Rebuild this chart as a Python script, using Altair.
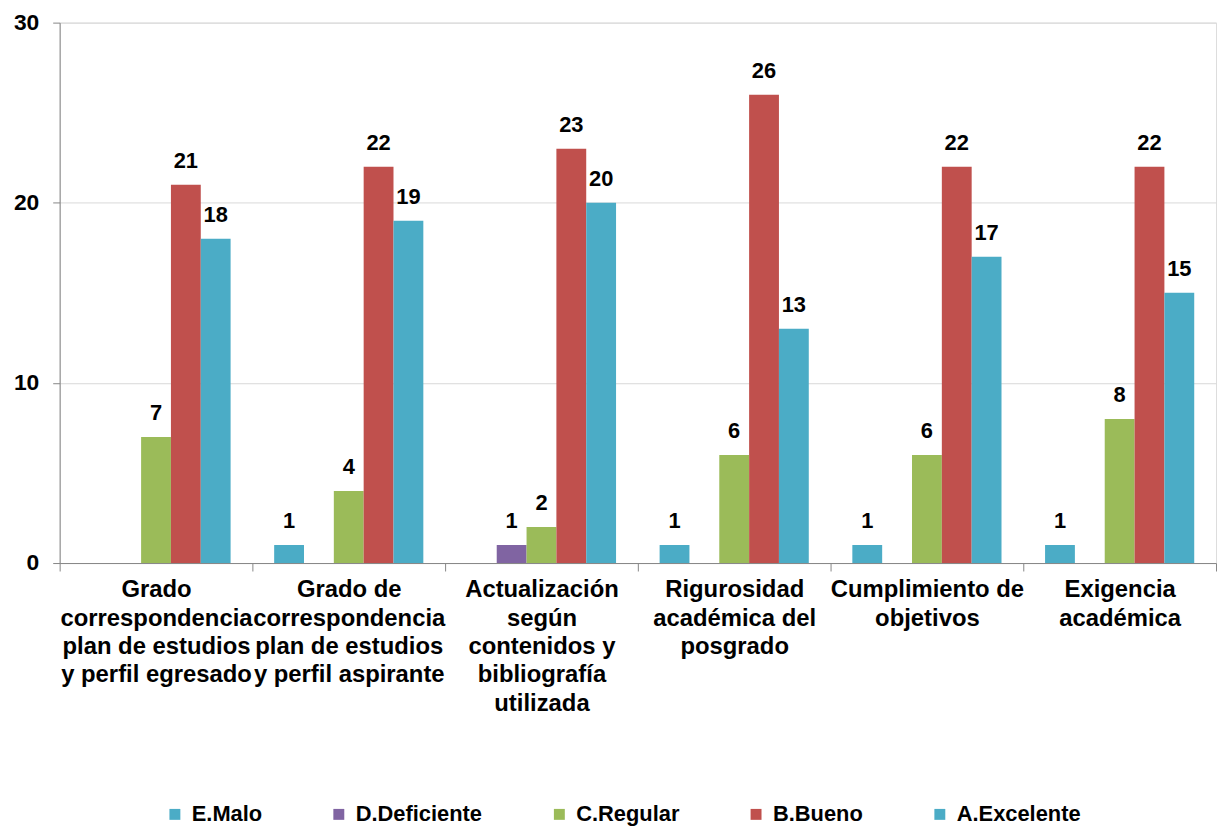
import altair as alt
import pandas as pd

categories = [
    "Grado\ncorrespondencia\nplan de estudios\ny perfil egresado",
    "Grado de\ncorrespondencia\nplan de estudios\ny perfil aspirante",
    "Actualización\nsegún\ncontenidos y\nbibliografía\nutilizada",
    "Rigurosidad\nacadémica del\nposgrado",
    "Cumplimiento de\nobjetivos",
    "Exigencia\nacadémica",
]
series = ["E.Malo", "D.Deficiente", "C.Regular", "B.Bueno", "A.Excelente"]
colors = ["#4BACC6", "#8064A2", "#9BBB59", "#C0504D", "#4BACC6"]

malo = [0, 1, 0, 1, 1, 1]
deficiente = [0, 0, 1, 0, 0, 0]
regular = [7, 4, 2, 6, 6, 8]
bueno = [21, 22, 23, 26, 22, 22]
excelente = [18, 19, 20, 13, 17, 15]

rows = []
for s, vals in zip(series, [malo, deficiente, regular, bueno, excelente]):
    for c, v in zip(categories, vals):
        rows.append({"category": c, "series": s, "value": v})
df = pd.DataFrame(rows)

FONT = "Liberation Sans"

x_enc = alt.X(
    "category:N",
    sort=categories,
    scale=alt.Scale(domain=categories, paddingInner=0, paddingOuter=0),
    axis=alt.Axis(
        title=None,
        labelAngle=0,
        labelExpr="split(datum.label, '\\n')",
        labelFont=FONT,
        labelFontSize=24,
        labelFontWeight="bold",
        labelColor="black",
        labelLineHeight=28.5,
        labelPadding=7,
        labelOverlap=False,
        labelBound=False,
        labelLimit=0,
        tickBand="extent",
        tickSize=8,
        tickColor="#868686",
        domainColor="#868686",
        grid=False,
    ),
)
xoff_enc = alt.XOffset(
    "series:N", sort=series,
    scale=alt.Scale(domain=series, paddingInner=0, paddingOuter=0.73),
)
y_enc = alt.Y(
    "value:Q",
    scale=alt.Scale(domain=[0, 30], nice=False),
    axis=alt.Axis(
        title=None,
        values=[0, 10, 20, 30],
        labelFont=FONT,
        labelFontSize=23,
        labelFontWeight="bold",
        labelColor="black",
        labelPadding=14,
        tickSize=7,
        tickColor="#868686",
        domainColor="#868686",
        gridColor="#D9D9D9",
        gridWidth=1,
    ),
)

base = alt.Chart(df).transform_filter("datum.value > 0")

bars = base.mark_bar().encode(
    x=x_enc,
    xOffset=xoff_enc,
    y=y_enc,
    color=alt.Color(
        "series:N",
        sort=series,
        scale=alt.Scale(domain=series, range=colors),
        legend=alt.Legend(
            title=None,
            orient="none",
            legendX=105,
            legendY=786,
            direction="horizontal",
            symbolType="square",
            symbolSize=121,
            symbolStrokeWidth=0,
            labelFont=FONT,
            labelFontSize=22,
            labelFontWeight="bold",
            labelColor="black",
            labelOffset=6,
            columnPadding=66,
        ),
    ),
)

labels = base.mark_text(
    dy=-17, baseline="alphabetic", font=FONT, fontSize=22, fontWeight="bold", color="black"
).encode(
    x=alt.X("category:N", sort=categories),
    xOffset=alt.XOffset("series:N", sort=series),
    y=alt.Y("value:Q"),
    text="value:Q",
)

chart = (
    alt.layer(bars, labels)
    .properties(width=1164, height=544, padding={"left": 5, "top": 1, "right": 0, "bottom": 0})
    .configure_view(stroke=None)
    .configure(background="white")
)

chart.save("out.html", embed_options={"renderer": "svg", "actions": False})
